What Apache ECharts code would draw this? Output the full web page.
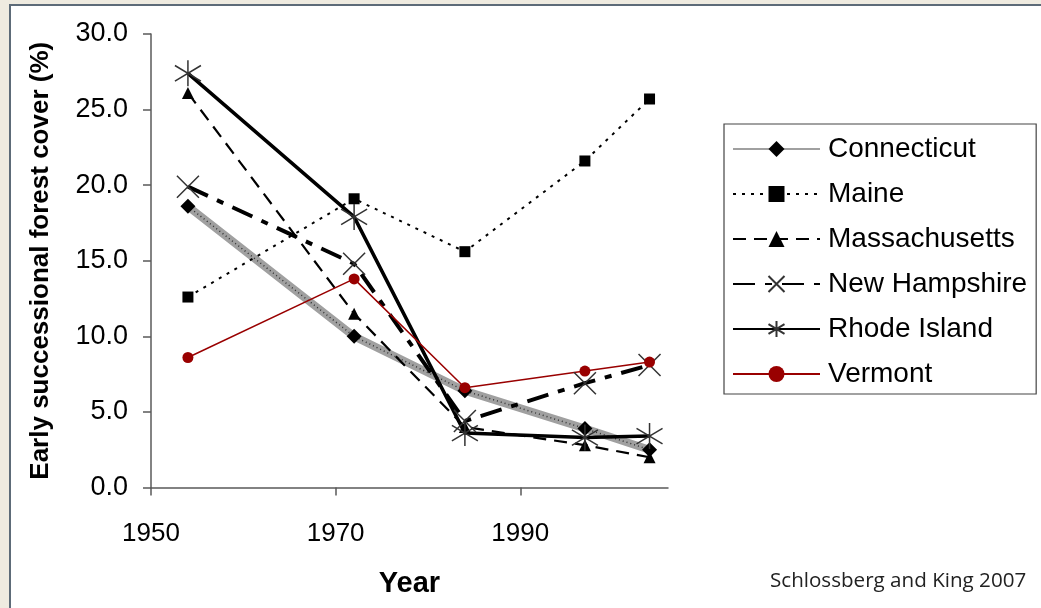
<!DOCTYPE html>
<html>
<head>
<meta charset="utf-8">
<script src="https://cdn.jsdelivr.net/npm/echarts@6/dist/echarts.min.js"></script>
<style>
  html, body { margin: 0; padding: 0; width: 1041px; height: 608px; overflow: hidden; background: #efebe0; }
  #frame { position: absolute; left: 9px; top: 4px; right: 0; bottom: 0; background: #ffffff; border-left: 2px solid #5d6b78; border-top: 2px solid #5d6b78; }
  #chart { position: absolute; left: 0; top: 0; width: 1041px; height: 608px; }
</style>
</head>
<body>
<div id="frame"></div>
<div id="chart"></div>
<script>
var years = [1954, 1972, 1984, 1997, 2004];
var connecticut   = [18.6, 10.0, 6.4, 3.9, 2.5];
var maine         = [12.6, 19.1, 15.6, 21.6, 25.7];
var massachusetts = [26.1, 11.5, 4.0, 2.8, 2.0];
var newHampshire  = [19.9, 14.8, 4.4, 6.9, 8.1];
var rhodeIsland   = [27.4, 17.9, 3.6, 3.3, 3.4];
var vermont       = [8.6, 13.8, 6.6, 7.7, 8.3];
var xTickLabels = [1950, 1970, 1990];

function pairs(vals) { return years.map(function (y, i) { return [y, vals[i]]; }); }

var FONT = 'Liberation Sans, Arial, sans-serif';
var xSym = 'path://M0,0L20,20M20,0L0,20';
var starSym = 'path://M10,0L10,20M0,4L20,16M0,16L20,4';

var chart = echarts.init(document.getElementById('chart'), null, { renderer: 'canvas' });
chart.setOption({
  backgroundColor: 'transparent',
  animation: false,
  grid: { left: 151, right: 373, top: 34, bottom: 120.5, containLabel: false },
  xAxis: {
    type: 'value', min: 1950, max: 2006,
    name: 'Year', nameLocation: 'middle', nameGap: 82,
    nameTextStyle: { fontFamily: FONT, fontSize: 29, fontWeight: 'bold', color: '#000' },
    axisLine: { show: true, onZero: false, lineStyle: { color: '#5a5a5a', width: 1.5 } },
    axisTick: { show: true, inside: false, length: 8, customValues: xTickLabels, lineStyle: { color: '#5a5a5a', width: 1.5 } },
    axisLabel: { customValues: xTickLabels, margin: 33, fontFamily: FONT, fontSize: 26, color: '#000',
      formatter: function (v) { return String(v); } },
    splitLine: { show: false }
  },
  yAxis: {
    type: 'value', min: 0, max: 30, interval: 5,
    name: 'Early successional forest cover (%)', nameLocation: 'middle', nameGap: 97,
    nameTextStyle: { fontFamily: FONT, fontSize: 26, fontWeight: 'bold', color: '#000' },
    axisLine: { show: true, lineStyle: { color: '#5a5a5a', width: 1.5 } },
    axisTick: { show: true, inside: false, length: 8, lineStyle: { color: '#5a5a5a', width: 1.5 } },
    axisLabel: { margin: 23, fontFamily: FONT, fontSize: 27, color: '#000', formatter: function (v) { return v.toFixed(1); } },
    splitLine: { show: false }
  },
  legend: {
    orient: 'vertical', left: 724, top: 124,
    data: ['Connecticut', 'Maine', 'Massachusetts', 'New Hampshire', 'Rhode Island', 'Vermont'],
    itemWidth: 87, itemHeight: 20, itemGap: 17,
    padding: [11, 9, 6, 8],
    borderColor: '#444', borderWidth: 1.2, backgroundColor: '#fff',
    textStyle: { fontFamily: FONT, fontSize: 28, lineHeight: 28, color: '#000', padding: [0, 0, 0, 3] }
  },
  graphic: [{
    type: 'text', left: 770, top: 571,
    style: { text: 'Schlossberg and King 2007', fontFamily: 'Open Sans, sans-serif', fontSize: 20.6, fill: '#222' }
  }],
  series: [
    {
      name: 'Connecticut', type: 'line', data: pairs(connecticut),
      symbol: 'diamond', symbolSize: 15,
      itemStyle: { color: '#000' },
      lineStyle: { color: '#a0a0a0', width: 8 }
    },
    {
      name: 'Connecticut', type: 'line', data: pairs(connecticut),
      symbol: 'none', silent: true,
      lineStyle: { color: '#333', width: 1.5, type: [1, 3] }
    },
    {
      name: 'Maine', type: 'line', data: pairs(maine),
      symbol: 'rect', symbolSize: 11,
      itemStyle: { color: '#000' },
      lineStyle: { color: '#000', width: 2, type: [3, 6] }
    },
    {
      name: 'Massachusetts', type: 'line', data: pairs(massachusetts),
      symbol: 'triangle', symbolSize: 12,
      itemStyle: { color: '#000' },
      lineStyle: { color: '#000', width: 2.2, type: [13, 8] }
    },
    {
      name: 'New Hampshire', type: 'line', data: pairs(newHampshire),
      symbol: xSym, symbolSize: 22,
      itemStyle: { color: 'rgba(0,0,0,0)', borderColor: '#333', borderWidth: 1.5 },
      lineStyle: { color: '#000', width: 4, type: [22, 10, 7, 10] }
    },
    {
      name: 'Rhode Island', type: 'line', data: pairs(rhodeIsland),
      symbol: starSym, symbolSize: 26,
      itemStyle: { color: 'rgba(0,0,0,0)', borderColor: '#333', borderWidth: 1.5 },
      lineStyle: { color: '#000', width: 3.5 }
    },
    {
      name: 'Vermont', type: 'line', data: pairs(vermont),
      symbol: 'circle', symbolSize: 11,
      itemStyle: { color: '#990000' },
      lineStyle: { color: '#990000', width: 1.5 }
    }
  ]
});
</script>
</body>
</html>
